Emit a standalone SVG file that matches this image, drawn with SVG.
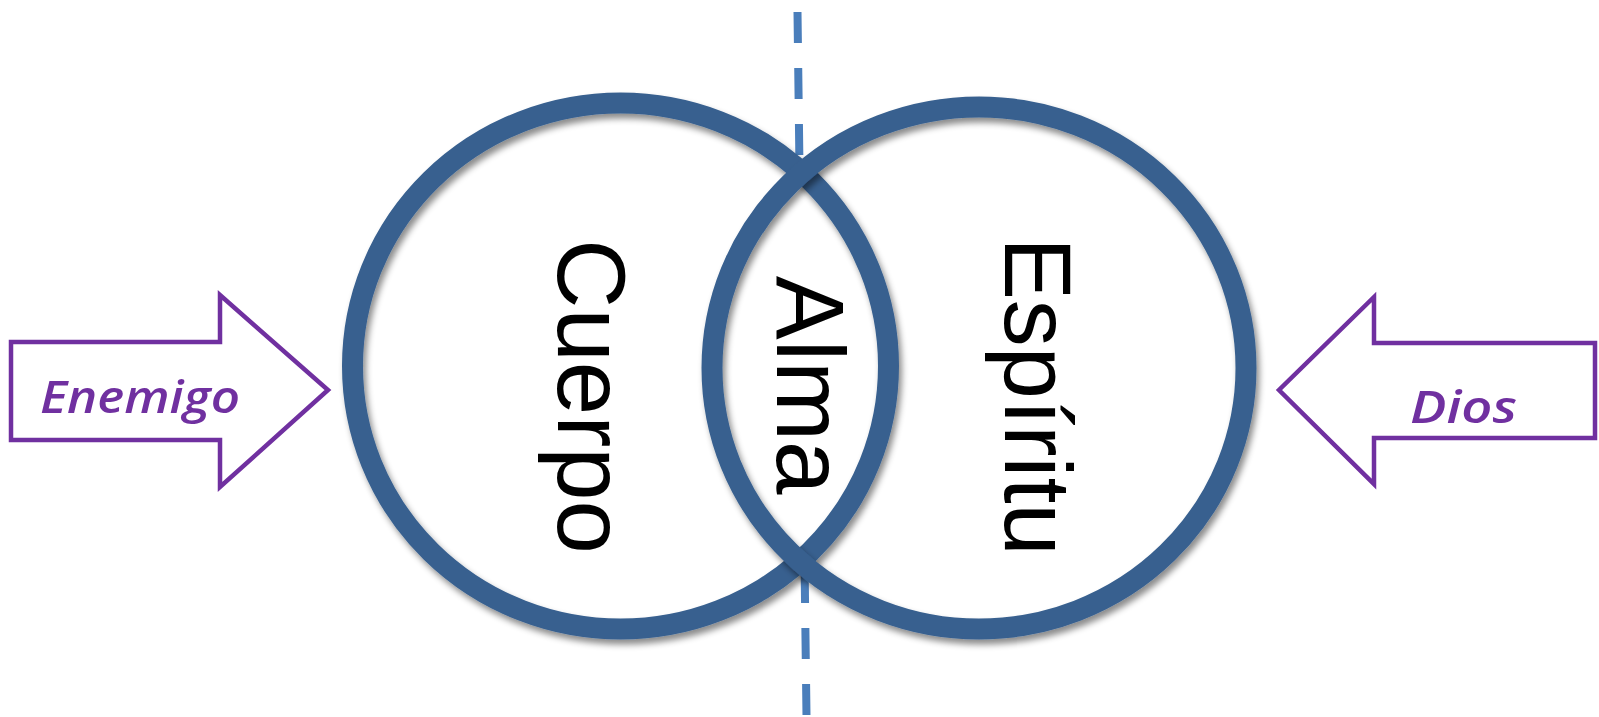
<svg xmlns="http://www.w3.org/2000/svg" width="1599" height="717" viewBox="0 0 1599 717">
  <defs>
    <filter id="shadow" x="-10%" y="-10%" width="125%" height="125%">
      <feDropShadow dx="3" dy="5" stdDeviation="3" flood-color="#000" flood-opacity="0.45"/>
    </filter>
  </defs>
  <style>
    .ring { fill: none; stroke: #38608f; stroke-width: 21; }
    .disc { fill: #ffffff; stroke: none; }
    .arrow { fill: #ffffff; stroke: #7030a0; stroke-width: 4.5; stroke-linejoin: miter; }
    .big { font-family: "Liberation Sans", Arial, sans-serif; font-size: 96px; fill: #000000; text-anchor: middle; }
    .hand { font-family: "Open Sans", "Noto Sans", sans-serif; font-style: italic; font-weight: 600; font-size: 46px; fill: #7030a0; }
    .divider { stroke: #4a7ebb; stroke-width: 8; stroke-dasharray: 31 25; fill: none; }
  </style>
  <rect width="1599" height="717" fill="#ffffff"/>
  <g id="connectors">
    <line class="divider" x1="797.5" y1="12" x2="806.5" y2="716"/>
  </g>
  <g id="fills">
    <ellipse class="disc" cx="620.5" cy="366" rx="268" ry="263"/>
    <ellipse class="disc" cx="979" cy="368" rx="267" ry="261"/>
  </g>
  <g id="cuerpo">
    <ellipse class="ring" cx="620.5" cy="366" rx="268" ry="263" filter="url(#shadow)"/>
  </g>
  <g id="espiritu">
    <ellipse class="ring" cx="979" cy="368" rx="267" ry="261" filter="url(#shadow)"/>
  </g>
  <g id="labels">
    <text class="big" transform="translate(558,396.5) rotate(90)">Cuerpo</text>
    <text class="big" transform="translate(777,385) rotate(90)">Alma</text>
    <text class="big" style="font-size:94px" transform="translate(1005,396.5) rotate(90)">Espíritu</text>
  </g>
  <g id="enemigo">
    <polygon class="arrow" points="11,342 220,342 220,295 328,390 220,487 220,440 11,440"/>
    <text class="hand" x="40" y="413" textLength="200" lengthAdjust="spacingAndGlyphs">Enemigo</text>
  </g>
  <g id="dios">
    <polygon class="arrow" points="1595,343 1374,343 1374,297 1279,390 1374,484 1374,438 1595,438"/>
    <text class="hand" x="1410" y="423" textLength="107" lengthAdjust="spacingAndGlyphs">Dios</text>
  </g>
</svg>
